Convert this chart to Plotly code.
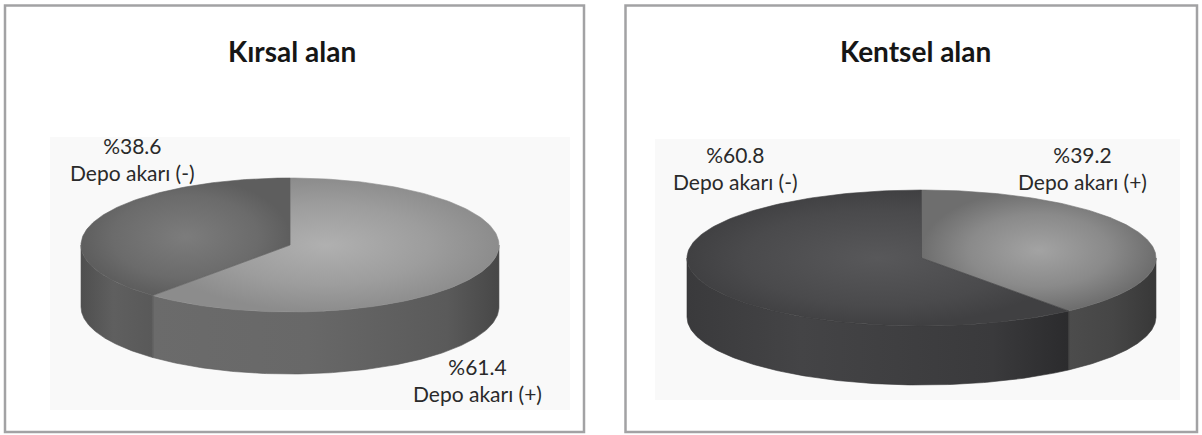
import numpy as np
import plotly.graph_objects as go

W, H = 1202, 435

# --- data ---
panel_titles = ["Kırsal alan", "Kentsel alan"]
slice_names = ["Depo akarı (+)", "Depo akarı (-)"]
rural_values = [61.4, 38.6]
urban_values = [39.2, 60.8]

FONT = "Lato"

fig = go.Figure()


def arc(cx, cy, a, b, t0, t1, n=160, dy=0.0):
    t = np.radians(np.linspace(t0, t1, n))
    return cx + a * np.cos(t), cy - b * np.sin(t) + dy


def pie3d(values, cx, cy, a, b, d, top_styles, side_styles):
    """Draw an extruded pie: slices start at 12 o'clock and run clockwise."""
    total = float(sum(values))
    starts, ends = [], []
    t = 90.0
    for v in values:
        starts.append(t)
        t -= 360.0 * v / total
        ends.append(t)

    # front walls (only the part of each rim facing the viewer)
    for t0, t1, sty in zip(starts, ends, side_styles):
        hi, lo = min(t0, 0.0), max(t1, -180.0)
        if hi <= lo:
            continue
        xt, yt = arc(cx, cy, a, b, hi, lo)
        xb, yb = arc(cx, cy, a, b, lo, hi, dy=d)
        xs = np.concatenate([xt, xb, xt[:1]])
        ys = np.concatenate([yt, yb, yt[:1]])
        x0, x1 = xs.min(), xs.max()
        fig.add_trace(go.Scatter(
            x=xs, y=ys, mode="lines", fill="toself",
            line=dict(width=0.6, color=sty["line"]),
            fillgradient=dict(type="horizontal", colorscale=sty["scale"],
                              start=x0, stop=x1),
            hoverinfo="skip", showlegend=False))

    # top faces
    for t0, t1, sty in zip(starts, ends, top_styles):
        xa, ya = arc(cx, cy, a, b, t0, t1)
        xs = np.concatenate([[cx], xa, [cx]])
        ys = np.concatenate([[cy], ya, [cy]])
        fig.add_trace(go.Scatter(
            x=xs, y=ys, mode="lines", fill="toself",
            line=dict(width=0.6, color=sty["line"]),
            fillgradient=dict(type="radial", colorscale=sty["scale"]),
            hoverinfo="skip", showlegend=False))


# rural pie: light (+) slice, darker (-) slice
pie3d(rural_values, cx=290, cy=245, a=209, b=67, d=62,
      top_styles=[
          dict(scale=[[0, "#b0b0b0"], [0.6, "#9d9d9d"], [1, "#8c8c8c"]], line="#8e8e8e"),
          dict(scale=[[0, "#7c7c7c"], [0.7, "#6b6b6b"], [1, "#5e5e5e"]], line="#606060"),
      ],
      side_styles=[
          dict(scale=[[0, "#6b6b6b"], [0.45, "#686868"], [0.85, "#5a5a5a"], [1, "#474747"]], line="#5a5a5a"),
          dict(scale=[[0, "#4f4f4f"], [0.45, "#5f5f5f"], [1, "#595959"]], line="#555555"),
      ])

# urban pie: light (+) slice, dark (-) slice
pie3d(urban_values, cx=921.5, cy=258, a=234.5, b=68, d=59,
      top_styles=[
          dict(scale=[[0, "#a3a3a3"], [0.6, "#8a8a8a"], [1, "#6e6e6e"]], line="#707070"),
          dict(scale=[[0, "#58585a"], [0.7, "#4a4a4c"], [1, "#404042"]], line="#404042"),
      ],
      side_styles=[
          dict(scale=[[0, "#4c4c4c"], [0.5, "#464646"], [1, "#383838"]], line="#404040"),
          dict(scale=[[0, "#3a3a3c"], [0.3, "#444446"], [0.8, "#3a3a3c"], [1, "#2b2b2d"]], line="#363638"),
      ])

# panel frames and faint chart-area backgrounds
shapes = [
    dict(type="rect", x0=50, x1=570, y0=137, y1=410, line=dict(width=0),
         fillcolor="#f9f9f9", layer="below"),
    dict(type="rect", x0=655, x1=1180, y0=139, y1=400, line=dict(width=0),
         fillcolor="#f9f9f9", layer="below"),
    dict(type="rect", x0=5, x1=584, y0=5.5, y1=432, line=dict(width=2.5, color="#a2a2a4"),
         fillcolor="rgba(0,0,0,0)", layer="below"),
    dict(type="rect", x0=625.5, x1=1197, y0=5.5, y1=432, line=dict(width=2.5, color="#a2a2a4"),
         fillcolor="rgba(0,0,0,0)", layer="below"),
]

txt = dict(family=FONT, size=21, color="#2a2a2a")
title_font = dict(family=FONT, size=28, color="#161616")
annotations = [
    dict(x=292, y=51, text="<b>%s</b>" % panel_titles[0], font=title_font),
    dict(x=915, y=51, text="<b>%s</b>" % panel_titles[1], font=title_font),
    dict(x=132, y=159, text="%%%.1f<br>%s" % (rural_values[1], slice_names[1]), font=txt),
    dict(x=477, y=380, text="%%%.1f<br>%s" % (rural_values[0], slice_names[0]), font=txt),
    dict(x=735, y=168, text="%%%.1f<br>%s" % (urban_values[1], slice_names[1]), font=txt),
    dict(x=1082, y=168, text="%%%.1f<br>%s" % (urban_values[0], slice_names[0]), font=txt),
]
for an in annotations:
    an.update(xref="x", yref="y", showarrow=False, xanchor="center", yanchor="middle")

fig.update_layout(
    width=W, height=H, autosize=False,
    margin=dict(l=0, r=0, t=0, b=0),
    paper_bgcolor="white", plot_bgcolor="white",
    xaxis=dict(range=[0, W], visible=False, fixedrange=True),
    yaxis=dict(range=[H, 0], visible=False, fixedrange=True),
    shapes=shapes, annotations=annotations,
)

fig.write_html("out.html")
